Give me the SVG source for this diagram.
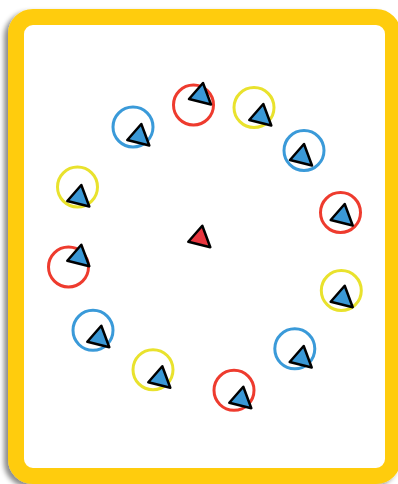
<svg xmlns="http://www.w3.org/2000/svg" width="398" height="484" viewBox="0 0 398 484">
<defs>
<filter id="sh" x="-10%" y="-10%" width="120%" height="120%">
<feDropShadow dx="-4" dy="3" stdDeviation="2.5" flood-color="#000" flood-opacity="0.45"/>
</filter>
<path id="tri" d="M0 0 L14 -16 L22 5.5 Z"/>
</defs>
<style>
.ring{fill:none;stroke-width:3}
.r{stroke:#ee3b2e}
.y{stroke:#e9e22d}
.b{stroke:#3a9ad9}
.t{fill:#3a98d6;stroke:#000;stroke-width:2.5;stroke-linejoin:round}
.tc{fill:#e8363f;stroke:#000;stroke-width:2.5;stroke-linejoin:round}
</style>
<rect id="frame" x="16" y="17" width="377" height="459" rx="17" ry="17" fill="#fff" stroke="#ffcc0f" stroke-width="16" filter="url(#sh)"/>
<g id="connectors"/>
<g id="n1"><circle class="ring r" cx="193.5" cy="105" r="20"/><use href="#tri" class="t" x="189" y="99"/></g>
<g id="n2"><circle class="ring y" cx="254" cy="107.5" r="20"/><use href="#tri" class="t" x="249.3" y="120"/></g>
<g id="n3"><circle class="ring b" cx="133" cy="127" r="20"/><use href="#tri" class="t" x="127.3" y="140"/></g>
<g id="n4"><circle class="ring b" cx="304" cy="150.5" r="20"/><use href="#tri" class="t" x="290" y="160"/></g>
<g id="n5"><circle class="ring y" cx="77.5" cy="187" r="20"/><use href="#tri" class="t" x="67.3" y="201"/></g>
<g id="n6"><circle class="ring r" cx="340.5" cy="212.5" r="20"/><use href="#tri" class="t" x="330.7" y="220"/></g>
<g id="n7"><circle class="ring r" cx="68.5" cy="267" r="20"/><use href="#tri" class="t" x="67.3" y="260.7"/></g>
<g id="n8"><circle class="ring y" cx="341.3" cy="290.5" r="20"/><use href="#tri" class="t" x="330.7" y="301.7"/></g>
<g id="n9"><circle class="ring b" cx="93" cy="330.3" r="20"/><use href="#tri" class="t" x="87.3" y="341.7"/></g>
<g id="n10"><circle class="ring b" cx="294.8" cy="348.8" r="20"/><use href="#tri" class="t" x="289.7" y="362"/></g>
<g id="n11"><circle class="ring y" cx="153" cy="369.7" r="20"/><use href="#tri" class="t" x="148.3" y="382.3"/></g>
<g id="n12"><circle class="ring r" cx="234" cy="390.3" r="20"/><use href="#tri" class="t" x="229.3" y="402.7"/></g>
<g id="center"><use href="#tri" class="tc" x="188.3" y="241.7"/></g>
</svg>
